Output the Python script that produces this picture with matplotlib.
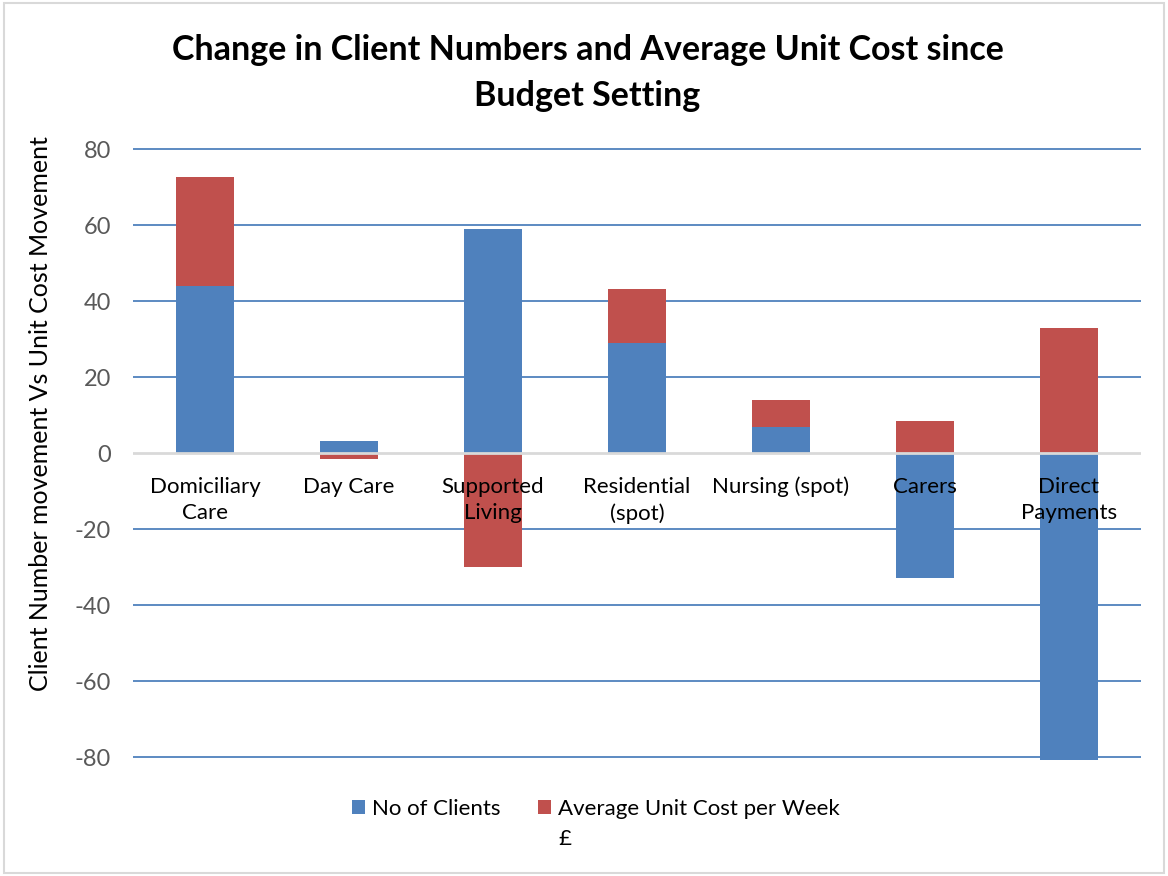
import matplotlib.pyplot as plt
from matplotlib.patches import Rectangle
import numpy as np

categories = ["Domiciliary\nCare", "Day Care", "Supported\nLiving", "Residential\n(spot)",
              "Nursing (spot)", "Carers", "Direct\nPayments"]
clients = [44, 3.2, 59, 28.9, 6.8, -32.9, -80.8]
unit_cost = [28.6, -1.6, -30, 14.3, 7.1, 8.4, 32.9]

blue = "#4F81BD"
red = "#C0504D"

plt.rcParams['font.family'] = ['Lato', 'DejaVu Sans']
plt.rcParams['axes.unicode_minus'] = False

W, H = 1168, 876
fig = plt.figure(figsize=(W / 100, H / 100), dpi=100)
# axes box in pixels: top 140, bottom 770, left 133, right 1141
ax = fig.add_axes([133 / W, 1 - 770 / H, (1141 - 133) / W, (770 - 140) / H])

x = np.arange(len(categories))
clients = np.array(clients)
unit_cost = np.array(unit_cost)

# stack like excel: positives on positives, negatives below negatives
cost_bottom = np.where((unit_cost >= 0) == (clients >= 0), clients, 0)
ax.bar(x, clients, 0.4, color=blue, label="No of Clients", zorder=2)
ax.bar(x, unit_cost, 0.4, bottom=cost_bottom, color=red,
       label="Average Unit Cost per Week", zorder=2)

ax.set_xlim(-0.5, len(categories) - 0.5)
ax.set_ylim(-83.4, 82.4)
ax.set_yticks(np.arange(-80, 81, 20))
ax.tick_params(axis='y', length=0, labelsize=17, labelcolor="#595959", pad=16)
ax.set_xticks([])
for v in np.arange(-80, 81, 20):
    if v != 0:
        ax.axhline(v, color=blue, lw=1.3, zorder=1)
ax.axhline(0, color="#D9D9D9", lw=2, zorder=3)
for s in ax.spines.values():
    s.set_visible(False)

for i, c in enumerate(categories):
    ax.text(i, -6.2, c, ha='center', va='top', fontsize=16, zorder=5, linespacing=1.4)

ax.set_ylabel("Client Number movement Vs Unit Cost Movement", fontsize=18)
ax.yaxis.set_label_coords(-0.08, 0.565)

fig.text(0.503, 1 - 73 / H, "Change in Client Numbers and Average Unit Cost since\nBudget Setting",
         ha='center', va='center', fontsize=24.5, fontweight='bold', linespacing=1.5)

leg = fig.legend(loc='center', bbox_to_anchor=(0.51, 1 - 809 / H), ncol=2, frameon=False,
                 fontsize=16, handlelength=0.6, handleheight=0.6, handletextpad=0.3,
                 columnspacing=1.7)

# second line of the unit cost label, left aligned under the first
fig.canvas.draw()
bb = leg.get_texts()[1].get_window_extent()
fig.text(bb.x0 / W, (bb.y0 - 10) / H, "£", ha='left', va='top', fontsize=16)

fig.add_artist(Rectangle((0.003, 0.003), 0.994, 0.994, transform=fig.transFigure,
                         fill=False, edgecolor="#D9D9D9", lw=1.5))

fig.savefig("out.png", dpi=100)
